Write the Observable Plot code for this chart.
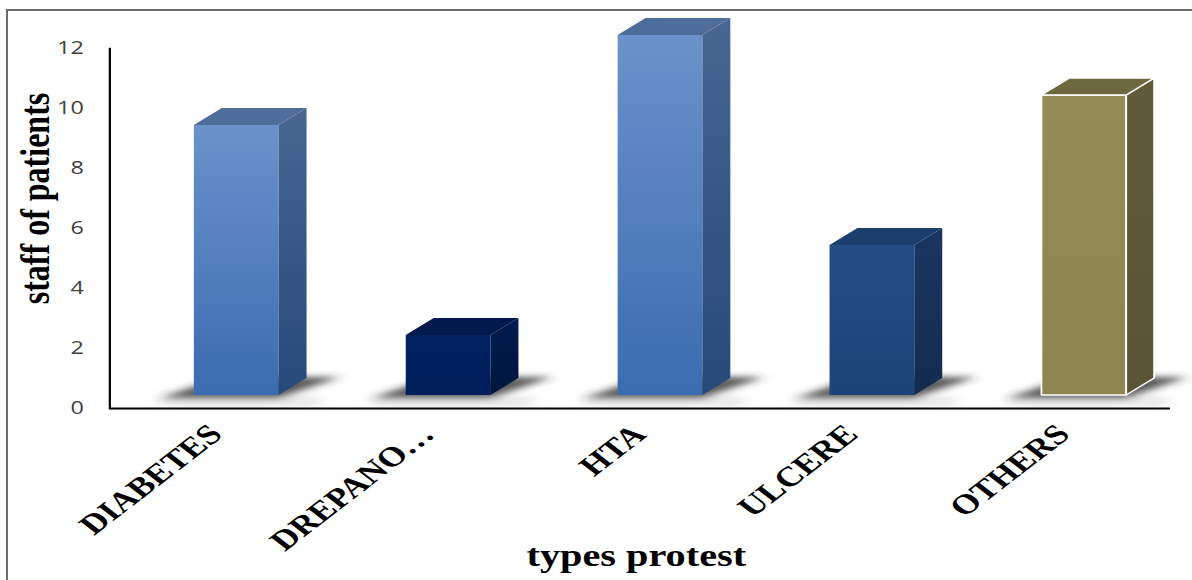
<!DOCTYPE html>
<html>
<head>
<meta charset="utf-8">
<script src="https://cdn.jsdelivr.net/npm/d3@7"></script>
<script src="https://cdn.jsdelivr.net/npm/@observablehq/plot@0.6"></script>
<style>
  html, body { margin: 0; padding: 0; background: #fff; }
  #chart { position: relative; width: 1192px; height: 580px; overflow: hidden; }
  #chart .edge { position: absolute; left: 6px; top: 9px; right: -10px; bottom: -10px;
    border-top: 2px solid #6b6b6b; border-left: 2px solid #6b6b6b; }
  #chart svg { position: absolute; left: 0; top: 0; }
</style>
</head>
<body>
<div id="chart"><div class="edge"></div></div>
<script>
// Data
const types = ["DIABETES", "DREPANO…", "HTA", "ULCERE", "OTHERS"];
const patients = [9, 2, 12, 5, 10];
const yTicks = [0, 2, 4, 6, 8, 10, 12];
const xTitle = "types protest";
const yTitle = "staff of patients";

// Styling: one tone per category, each tone = front top, front bottom, side top, side bottom, top face, outline
const tone = ["blue", "navy", "blue", "steel", "olive"];
const shades = {
  blue:  ["#6b92ca", "#3a6cb0", "#476692", "#27497a", "#4f6d9a", null],
  navy:  ["#00225f", "#001e5a", "#001b4d", "#00163f", "#001a4d", null],
  steel: ["#244d85", "#1d4479", "#1a3661", "#132b4f", "#1c3e6d", null],
  olive: ["#958b56", "#8f8550", "#625b39", "#5b5434", "#6e6840", "#ffffff"]
};

const stretch = 1.3;                 // horizontal stretch of the drawing
const W = 1192 / stretch;
const depth = [21.5, -17];           // oblique depth of each prism
const lift = -13;                    // prisms stand on a floor above the axis

const rows = types.map((type, i) => ({type, count: patients[i], tone: tone[i]}));

const ns = "http://www.w3.org/2000/svg";
function el(name, attrs) {
  const e = document.createElementNS(ns, name);
  for (const [k, v] of Object.entries(attrs)) if (v != null) e.setAttribute(k, v);
  return e;
}
function grad(id, c0, c1) {
  const g = el("linearGradient", {id, x1: 0, y1: 0, x2: 0, y2: 1});
  g.appendChild(el("stop", {offset: "0%", "stop-color": c0}));
  g.appendChild(el("stop", {offset: "100%", "stop-color": c1}));
  return g;
}
const pts = (a) => a.map(p => p.join(",")).join(" ");

// Render each bar as a front face plus side, top and floor shadow
function prism(index, scales, values, dimensions, context, next) {
  const g = next(index, scales, values, dimensions, context);
  const defs = el("defs", {});
  for (const [name, s] of Object.entries(shades)) {
    defs.appendChild(grad(`front-${name}`, s[0], s[1]));
    defs.appendChild(grad(`side-${name}`, s[2], s[3]));
  }
  const f = el("filter", {id: "floor-blur", x: "-40%", y: "-80%", width: "180%", height: "260%"});
  f.appendChild(el("feGaussianBlur", {stdDeviation: "4.5 3"}));
  defs.appendChild(f);
  const f2 = el("filter", {id: "haze-blur", x: "-40%", y: "-100%", width: "180%", height: "300%"});
  f2.appendChild(el("feGaussianBlur", {stdDeviation: "6 3"}));
  defs.appendChild(f2);
  g.insertBefore(defs, g.firstChild);
  const [ddx, ddy] = depth;
  Array.from(g.querySelectorAll("rect")).forEach((r, j) => {
    const k = rows[index[j]].tone;
    const s = shades[k];
    const x0 = +r.getAttribute("x"), w = +r.getAttribute("width");
    const yt = +r.getAttribute("y"), yb = yt + +r.getAttribute("height");
    const x1 = x0 + w;
    const haze = el("polygon", {
      points: pts([[x0 - 26, yb + 2], [x1 + ddx + 10, yb + 2], [x1 + ddx + 10, yb + 11], [x0 - 26, yb + 11]]),
      fill: "#000", "fill-opacity": 0.1, filter: "url(#haze-blur)"
    });
    const shadow = el("polygon", {
      points: pts([[x0 - 26, yb + 3], [x1, yb + 3], [x1 + ddx + 26, yb + ddy - 1], [x0 + ddx, yb + ddy - 1]]),
      fill: "#303030", "fill-opacity": 0.8, filter: "url(#floor-blur)"
    });
    g.insertBefore(haze, r);
    g.insertBefore(shadow, r);
    r.setAttribute("fill", `url(#front-${k})`);
    const line = s[5] ? {stroke: s[5], "stroke-width": 1.4, "stroke-linejoin": "round"} : {};
    for (const [a, v] of Object.entries(line)) r.setAttribute(a, v);
    const side = el("polygon", {
      points: pts([[x1, yt], [x1 + ddx, yt + ddy], [x1 + ddx, yb + ddy], [x1, yb]]),
      fill: `url(#side-${k})`, ...line
    });
    const top = el("polygon", {
      points: pts([[x0, yt], [x1, yt], [x1 + ddx, yt + ddy], [x0 + ddx, yt + ddy]]),
      fill: s[4], ...line
    });
    r.after(side, top);
  });
  return g;
}

const serif = "'Liberation Serif', 'Times New Roman', serif";

const plot = Plot.plot({
  width: W,
  height: 580,
  marginLeft: 84,
  marginRight: 17,
  marginTop: 48,
  marginBottom: 172,
  x: {domain: types, padding: 0},
  y: {domain: [0, 12]},
  marks: [
    Plot.axisY({ticks: yTicks, tickSize: 0, tickPadding: 20, label: null,
      fontSize: 18, fontFamily: "'Open Sans', sans-serif", fill: "#404040"}),
    Plot.axisX({tickSize: 0, tickRotate: -45, tickPadding: 21, label: null,
      fontSize: 28, fontWeight: "bold", fontFamily: serif, fill: "#000", dx: 0}),
    Plot.barY(rows, {x: "type", y: "count", insetLeft: 48.9, insetRight: 48.9,
      dx: 16.2, dy: lift, render: prism}),
    Plot.frame({anchor: "left", stroke: "#000", strokeWidth: 1.7}),
    Plot.ruleY([0], {stroke: "#000", strokeWidth: 2}),
    Plot.text([yTitle], {frameAnchor: "left", textAnchor: "middle", rotate: -90, dx: -57, dy: -30,
      fontSize: 32, fontWeight: "bold", fontFamily: serif, fill: "#000"}),
    Plot.text([xTitle], {frameAnchor: "bottom", dx: -3, dy: 157,
      fontSize: 31, fontWeight: "bold", fontFamily: serif, fill: "#000"})
  ]
});

plot.setAttribute("width", 1192);
plot.setAttribute("height", 580);
plot.setAttribute("preserveAspectRatio", "none");
plot.style.width = "1192px";
plot.style.height = "580px";
plot.style.maxWidth = "none";
plot.style.background = "transparent";
document.getElementById("chart").appendChild(plot);
</script>
</body>
</html>
